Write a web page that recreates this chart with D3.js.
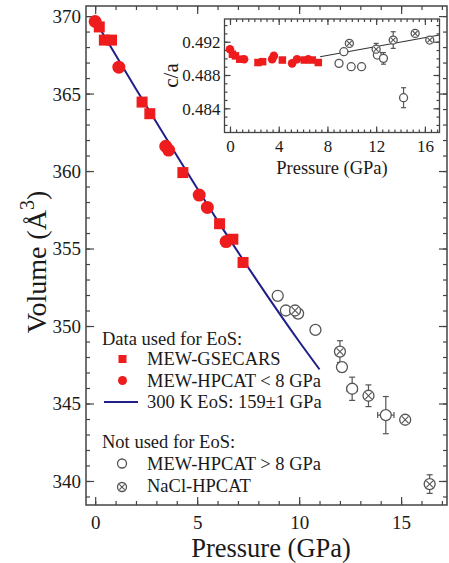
<!DOCTYPE html>
<html>
<head>
<meta charset="utf-8">
<script src="https://cdn.jsdelivr.net/npm/d3@7"></script>
<style>
html,body{margin:0;padding:0;background:#fff;}
svg{display:block;}
svg text{fill:#1a1a1a;}
</style>
</head>
<body>
<svg id="c" width="449" height="563"></svg>
<script>
// ---------- DATA ----------
// MEW-GSECARS (red squares)
const gseP  = [0.2, 0.45, 0.8, 2.3, 2.68, 4.3, 6.1, 6.75, 7.25];
const gseV  = [369.3, 368.45, 368.45, 364.45, 363.7, 359.9, 356.6, 355.6, 354.1];
const gseCA = [0.4905, 0.4903, 0.4899, 0.4895, 0.4896, 0.4898, 0.4898, 0.4898, 0.4895];
// MEW-HPCAT < 8 GPa (red circles)
const hpLoP  = [0.0, 1.16, 3.46, 3.6, 5.1, 5.5, 6.42];
const hpLoV  = [369.65, 366.7, 361.6, 361.35, 358.45, 357.65, 355.45];
const hpLoCA = [0.4911, 0.4899, 0.4899, 0.4903, 0.4894, 0.4899, 0.4899];
// MEW-HPCAT > 8 GPa (open circles)
const hpHiP    = [8.95, 9.35, 9.95, 10.8, 12.1, 12.6, 14.25];
const hpHiV    = [351.95, 351.0, 350.8, 349.75, 347.35, 345.95, 344.25];
const hpHiVerr = [0, 0, 0, 0, 0.3, 0.75, 1.2];
const hpHiPerr = [0, 0, 0, 0, 0, 0.25, 0.4];
const hpHiCA   = [0.4894, 0.4908, 0.4890, 0.4890, 0.4904, 0.4900, 0.48527];
const hpHiCAerr= [0, 0, 0, 0, 0, 0.0007, 0.0012];
// NaCl-HPCAT (crossed circles)
const naclP    = [9.8, 12.0, 13.4, 15.2, 16.4];
const naclV    = [351.0, 348.35, 345.5, 343.95, 339.8];
const naclVerr = [0, 0.7, 0.7, 0, 0.6];
const naclCA   = [0.4918, 0.4911, 0.4922, 0.4930, 0.4922];
const naclCAerr= [0, 0.0007, 0.001, 0, 0];
// 300 K EoS curve
const eosP = [0, 2, 4, 6, 8, 10, 11.0];
const eosV = [369.7, 365.3, 361.0, 356.8, 352.8, 349.0, 347.2];
// c/a trend line in inset
const trendP  = [7.4, 17.2];
const trendCA = [0.4902, 0.4928];
// ticks
const mainXTicks = [0, 5, 10, 15];
const mainYTicks = [340, 345, 350, 355, 360, 365, 370];
const insetXTicks = [0, 4, 8, 12, 16];
const insetYTicks = [0.484, 0.488, 0.492];
// legend
const legendHead1 = "Data used for EoS:";
const legendHead2 = "Not used for EoS:";
const legendItems1 = ["MEW-GSECARS", "MEW-HPCAT < 8 GPa", "300 K EoS: 159\u00B11 GPa"];
const legendItems2 = ["MEW-HPCAT > 8 GPa", "NaCl-HPCAT"];

// ---------- DRAW ----------
const svg = d3.select("#c");
const RED = "#ee1c1c", NAVY = "#1f1f8a", GREY = "#555", AX = "#444";
const FONT = "Liberation Serif";

const x = d3.scaleLinear().domain([-0.45, 17.25]).range([86, 447]);
const y = d3.scaleLinear().domain([338.45, 370.65]).range([505, 6]);

function styleAxis(g){
  g.select(".domain").remove();
  g.selectAll(".tick line").attr("stroke", AX).attr("stroke-width", 1.2);
}
function frame(g, x0, x1, y0, y1, w){
  g.append("rect").attr("x", x0).attr("y", y0).attr("width", x1-x0).attr("height", y1-y0)
    .attr("fill", "none").attr("stroke", AX).attr("stroke-width", w);
}

const main = svg.append("g");
// minor ticks
const xMinor = d3.range(0, 18, 1), yMinor = d3.range(339, 371, 1);
[["b",505],["t",6]].forEach(([s,yy])=>{
  const ax = (s==="b"?d3.axisBottom(x):d3.axisTop(x)).tickValues(xMinor).tickSize(-4).tickFormat("");
  main.append("g").attr("transform",`translate(0,${yy})`).call(ax).call(styleAxis);
  const axM = (s==="b"?d3.axisBottom(x):d3.axisTop(x)).tickValues(mainXTicks).tickSize(-8).tickFormat("");
  main.append("g").attr("transform",`translate(0,${yy})`).call(axM).call(styleAxis);
});
[["l",86],["r",447]].forEach(([s,xx])=>{
  const ax = (s==="l"?d3.axisLeft(y):d3.axisRight(y)).tickValues(yMinor).tickSize(-4).tickFormat("");
  main.append("g").attr("transform",`translate(${xx},0)`).call(ax).call(styleAxis);
  const axM = (s==="l"?d3.axisLeft(y):d3.axisRight(y)).tickValues(mainYTicks).tickSize(-8).tickFormat("");
  main.append("g").attr("transform",`translate(${xx},0)`).call(axM).call(styleAxis);
});
// tick labels
const xl = main.append("g").attr("transform","translate(0,505)").call(d3.axisBottom(x).tickValues(mainXTicks).tickSize(0).tickPadding(0));
xl.select(".domain").remove();
xl.attr("font-family", FONT).attr("font-size", 19);
xl.selectAll("text").attr("y", 24).attr("dy", null).attr("fill","#1a1a1a");
const yl = main.append("g").attr("transform","translate(86,0)").call(d3.axisLeft(y).tickValues(mainYTicks).tickSize(0).tickPadding(0));
yl.select(".domain").remove();
yl.attr("font-family", FONT).attr("font-size", 19);
yl.selectAll("text").attr("x", -5).attr("dy", "0.34em").attr("fill","#1a1a1a");
frame(main, 86, 447, 6, 505, 1.5);

// axis titles
main.append("text").attr("x", 271).attr("y", 557).attr("text-anchor","middle")
  .attr("font-family", FONT).attr("font-size", 26.5).text("Pressure (GPa)");
const vt = main.append("text").attr("transform","translate(46,262) rotate(-90)").attr("text-anchor","middle")
  .attr("font-family", FONT).attr("font-size", 28);
vt.append("tspan").text("Volume (\u00C5");
vt.append("tspan").attr("dy",-12).attr("font-size", 20).text("3");
vt.append("tspan").attr("dy",12).text(")");

// EoS line
main.append("path").datum(eosP.map((p,i)=>[p,eosV[i]]))
  .attr("d", d3.line().x(d=>x(d[0])).y(d=>y(d[1])).curve(d3.curveMonotoneX))
  .attr("fill","none").attr("stroke",NAVY).attr("stroke-width",2);

// helpers
function errV(g, cx, cy0, cy1, cap){
  g.append("line").attr("x1",cx).attr("x2",cx).attr("y1",cy0).attr("y2",cy1).attr("stroke",GREY).attr("stroke-width",1.2);
  [cy0,cy1].forEach(v=>g.append("line").attr("x1",cx-cap).attr("x2",cx+cap).attr("y1",v).attr("y2",v).attr("stroke",GREY).attr("stroke-width",1.2));
}
function errH(g, cy, cx0, cx1, cap){
  g.append("line").attr("x1",cx0).attr("x2",cx1).attr("y1",cy).attr("y2",cy).attr("stroke",GREY).attr("stroke-width",1.2);
  [cx0,cx1].forEach(v=>g.append("line").attr("x1",v).attr("x2",v).attr("y1",cy-cap).attr("y2",cy+cap).attr("stroke",GREY).attr("stroke-width",1.2));
}
function openCircle(g, cx, cy, r){
  g.append("circle").attr("cx",cx).attr("cy",cy).attr("r",r).attr("fill","#fff").attr("stroke",GREY).attr("stroke-width",1.3);
}
function crossCircle(g, cx, cy, r){
  openCircle(g, cx, cy, r);
  const d = r*0.6;
  g.append("path").attr("d",`M${cx-d},${cy-d}L${cx+d},${cy+d}M${cx-d},${cy+d}L${cx+d},${cy-d}`)
    .attr("stroke",GREY).attr("stroke-width",1.1);
}
function redSquare(g, cx, cy, s){
  g.append("rect").attr("x",cx-s/2).attr("y",cy-s/2).attr("width",s).attr("height",s).attr("fill",RED);
}
function redCircle(g, cx, cy, r){
  g.append("circle").attr("cx",cx).attr("cy",cy).attr("r",r).attr("fill",RED);
}

// main data
const md = main.append("g");
hpHiP.forEach((p,i)=>{
  if(hpHiVerr[i]>0) errV(md, x(p), y(hpHiV[i]+hpHiVerr[i]), y(hpHiV[i]-hpHiVerr[i]), 3);
  if(hpHiPerr[i]>0) errH(md, y(hpHiV[i]), x(p-hpHiPerr[i]), x(p+hpHiPerr[i]), 3);
});
naclP.forEach((p,i)=>{
  if(naclVerr[i]>0) errV(md, x(p), y(naclV[i]+naclVerr[i]), y(naclV[i]-naclVerr[i]), 3);
});
hpHiP.forEach((p,i)=>openCircle(md, x(p), y(hpHiV[i]), 5.5));
naclP.forEach((p,i)=>crossCircle(md, x(p), y(naclV[i]), 5.5));
gseP.forEach((p,i)=>redSquare(md, x(p), y(gseV[i]), 11));
hpLoP.forEach((p,i)=>redCircle(md, x(p), y(hpLoV[i]), 6.5));

// legend
const lg = main.append("g").attr("font-family", FONT).attr("font-size", 18.5);
lg.append("text").attr("x",102).attr("y",345).text(legendHead1);
redSquare(lg, 122.5, 359, 8);
redCircle(lg, 122.5, 380.5, 4.5);
lg.append("line").attr("x1",104).attr("x2",138).attr("y1",402).attr("y2",402).attr("stroke",NAVY).attr("stroke-width",2);
legendItems1.forEach((t,i)=>lg.append("text").attr("x",147).attr("y",365+i*21.7).text(t));
lg.append("text").attr("x",102).attr("y",448).text(legendHead2);
openCircle(lg, 122, 463.5, 4.5);
crossCircle(lg, 122, 487, 4.5);
legendItems2.forEach((t,i)=>lg.append("text").attr("x",147).attr("y",469.5+i*22).text(t));

// ---------- INSET ----------
const xi = d3.scaleLinear().domain([-0.45, 17.2]).range([224.5, 439.5]);
const yi = d3.scaleLinear().domain([0.48109, 0.49473]).range([132.5, 19]);
const ins = svg.append("g");
ins.append("rect").attr("x",224.5).attr("y",19).attr("width",215).attr("height",113.5).attr("fill","#fff");
const xiMinor = d3.range(0, 17.5, 0.5), yiMinor = d3.range(0.482, 0.4945, 0.001);
[["b",132.5],["t",19]].forEach(([s,yy])=>{
  const a1 = (s==="b"?d3.axisBottom(xi):d3.axisTop(xi)).tickValues(xiMinor).tickSize(-3).tickFormat("");
  ins.append("g").attr("transform",`translate(0,${yy})`).call(a1).call(styleAxis);
  const a2 = (s==="b"?d3.axisBottom(xi):d3.axisTop(xi)).tickValues(insetXTicks).tickSize(-6).tickFormat("");
  ins.append("g").attr("transform",`translate(0,${yy})`).call(a2).call(styleAxis);
});
[["l",224.5],["r",439.5]].forEach(([s,xx])=>{
  const a1 = (s==="l"?d3.axisLeft(yi):d3.axisRight(yi)).tickValues(yiMinor).tickSize(-3).tickFormat("");
  ins.append("g").attr("transform",`translate(${xx},0)`).call(a1).call(styleAxis);
  const a2 = (s==="l"?d3.axisLeft(yi):d3.axisRight(yi)).tickValues(insetYTicks).tickSize(-6).tickFormat("");
  ins.append("g").attr("transform",`translate(${xx},0)`).call(a2).call(styleAxis);
});
const xil = ins.append("g").attr("transform","translate(0,132.5)").call(d3.axisBottom(xi).tickValues(insetXTicks).tickSize(0));
xil.select(".domain").remove();
xil.attr("font-family", FONT).attr("font-size", 17);
xil.selectAll("text").attr("y", 19).attr("dy", null).attr("fill","#1a1a1a");
const yil = ins.append("g").attr("transform","translate(224.5,0)").call(d3.axisLeft(yi).tickValues(insetYTicks).tickSize(0).tickFormat(d3.format(".3f")));
yil.select(".domain").remove();
yil.attr("font-family", FONT).attr("font-size", 17);
yil.selectAll("text").attr("x", -4).attr("dy", "0.34em").attr("fill","#1a1a1a");
frame(ins, 224.5, 439.5, 19, 132.5, 1.3);
ins.append("text").attr("x",332).attr("y",174).attr("text-anchor","middle").attr("font-family", FONT).attr("font-size", 18.5).text("Pressure (GPa)");
ins.append("text").attr("transform","translate(178,75.5) rotate(-90)").attr("text-anchor","middle").attr("font-family", FONT).attr("font-size", 21).text("c/a");

// inset trend line
ins.append("path").datum(trendP.map((p,i)=>[p,trendCA[i]]))
  .attr("d", d3.line().x(d=>xi(d[0])).y(d=>yi(d[1])))
  .attr("fill","none").attr("stroke","#333").attr("stroke-width",1.1);
const idg = ins.append("g");
hpHiP.forEach((p,i)=>{ if(hpHiCAerr[i]>0) errV(idg, xi(p), yi(hpHiCA[i]+hpHiCAerr[i]), yi(hpHiCA[i]-hpHiCAerr[i]), 2.5); });
naclP.forEach((p,i)=>{ if(naclCAerr[i]>0) errV(idg, xi(p), yi(naclCA[i]+naclCAerr[i]), yi(naclCA[i]-naclCAerr[i]), 2.5); });
hpHiP.forEach((p,i)=>openCircle(idg, xi(p), yi(hpHiCA[i]), 4));
naclP.forEach((p,i)=>crossCircle(idg, xi(p), yi(naclCA[i]), 4));
gseP.forEach((p,i)=>redSquare(idg, xi(p), yi(gseCA[i]), 7.5));
hpLoP.forEach((p,i)=>redCircle(idg, xi(p), yi(hpLoCA[i]), 4.3));
</script>
</body>
</html>
